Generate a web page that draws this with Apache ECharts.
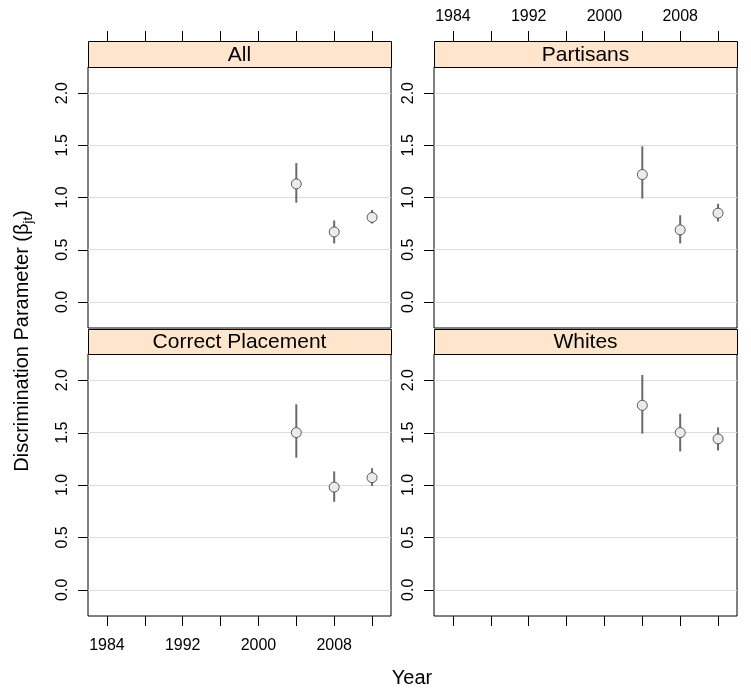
<!DOCTYPE html>
<html><head><meta charset="utf-8">
<script src="https://cdn.jsdelivr.net/npm/echarts@6/dist/echarts.min.js"></script>
<style>html,body{margin:0;padding:0;background:#fff}#c{width:751px;height:694px}</style>
</head><body><div id="c"></div>
<script>
// ---- data ----
const panelNames = ['All', 'Partisans', 'Correct Placement', 'Whites'];
const years = [2004, 2008, 2012];
const allEst = [1.13, 0.67, 0.81];
const allLo = [0.95, 0.56, 0.75];
const allHi = [1.33, 0.78, 0.88];
const partisansEst = [1.22, 0.69, 0.85];
const partisansLo = [0.99, 0.56, 0.77];
const partisansHi = [1.49, 0.83, 0.94];
const correctEst = [1.50, 0.98, 1.07];
const correctLo = [1.26, 0.84, 0.99];
const correctHi = [1.77, 1.13, 1.16];
const whitesEst = [1.76, 1.50, 1.44];
const whitesLo = [1.49, 1.32, 1.33];
const whitesHi = [2.05, 1.68, 1.55];
const xTickValues = [1984, 1988, 1992, 1996, 2000, 2004, 2008, 2012];
const xLabelValues = [1984, 1992, 2000, 2008];
const yTickValues = [0, 0.5, 1, 1.5, 2];

const panelEst = [allEst, partisansEst, correctEst, whitesEst];
const panelLo = [allLo, partisansLo, correctLo, whitesLo];
const panelHi = [allHi, partisansHi, correctHi, whitesHi];

// ---- layout ----
const FONT = "'Liberation Sans', Arial, Helvetica, sans-serif";
const W = 303;
const X_MIN = 1982, X_MAX = 2014;
const TICK_LEN = 10;
const layout = [
  { left: 88, top: 67, height: 261, pos: 'top', labels: false, stripH: 26 },
  { left: 434, top: 67, height: 261, pos: 'top', labels: true, stripH: 26 },
  { left: 88, top: 354, height: 262, pos: 'bottom', labels: true, stripH: 25 },
  { left: 434, top: 354, height: 262, pos: 'bottom', labels: false, stripH: 25 }
];

const grids = [], xAxes = [], yAxes = [], series = [], graphics = [];
layout.forEach((L, i) => {
  grids.push({ left: L.left, top: L.top, width: W, height: L.height, show: true,
    borderColor: '#000', borderWidth: 1, backgroundColor: 'transparent', containLabel: false });
  xAxes.push({
    type: 'value', gridIndex: i, min: X_MIN, max: X_MAX, position: L.pos,
    offset: L.pos === 'top' ? L.stripH : 0,
    axisLine: { show: false, onZero: false },
    axisTick: { show: true, length: TICK_LEN, inside: false, customValues: xTickValues,
      lineStyle: { color: '#000', width: 1 } },
    axisLabel: { show: L.labels, customValues: xLabelValues, color: '#000', fontSize: 16,
      fontFamily: FONT, margin: L.pos === 'top' ? 16 : 22, formatter: v => String(v) },
    splitLine: { show: false }
  });
  yAxes.push({
    type: 'value', gridIndex: i, min: -0.25, max: 2.25, position: 'left',
    axisLine: { show: false, onZero: false },
    axisTick: { show: false, customValues: yTickValues },
    axisLabel: { show: true, customValues: yTickValues, rotate: 90, color: '#000', fontSize: 16,
      fontFamily: FONT, margin: 17, formatter: v => v.toFixed(1) },
    splitLine: { show: true, lineStyle: { color: '#dcdcdc', width: 1 } }
  });
  const barData = years.map((y, k) => [y, panelLo[i][k], panelHi[i][k]]);
  series.push({
    type: 'custom', xAxisIndex: i, yAxisIndex: i, z: 3,
    data: barData,
    renderItem: function (params, api) {
      const p1 = api.coord([api.value(0), api.value(1)]);
      const p2 = api.coord([api.value(0), api.value(2)]);
      return { type: 'line', shape: { x1: p1[0], y1: p1[1], x2: p2[0], y2: p2[1] },
        style: { stroke: '#6a6a6a', lineWidth: 2 } };
    },
    silent: true
  });
  series.push({
    type: 'scatter', xAxisIndex: i, yAxisIndex: i, z: 4,
    data: years.map((y, k) => [y, panelEst[i][k]]),
    symbol: 'circle', symbolSize: 10,
    itemStyle: { color: '#ebebeb', borderColor: '#5a5a5a', borderWidth: 1, opacity: 1 },
    silent: true
  });
  graphics.push({
    type: 'rect', left: L.left, top: L.top - L.stripH, z: 10,
    shape: { width: W, height: L.stripH },
    style: { fill: '#FFE5CC', stroke: '#000', lineWidth: 1 }
  });
  graphics.push({
    type: 'text', x: L.left + W / 2, y: L.top - L.stripH / 2 + 1, z: 11,
    style: { text: panelNames[i], fill: '#000', font: '21px ' + FONT,
      align: 'center', verticalAlign: 'middle' }
  });
});

graphics.push({
  type: 'text', x: 412, y: 678, z: 11,
  style: { text: 'Year', fill: '#000', font: '20px ' + FONT, align: 'center', verticalAlign: 'middle' }
});
graphics.push({
  type: 'text', x: 22, y: 341, rotation: Math.PI / 2, z: 11,
  style: {
    text: '{a|Discrimination Parameter (β}{s|jt}{a|)}',
    align: 'center', verticalAlign: 'middle',
    rich: {
      a: { fontSize: 20, fontFamily: FONT, fill: '#000', lineHeight: 26, verticalAlign: 'middle' },
      s: { fontSize: 13, fontFamily: FONT, fill: '#000', lineHeight: 13, verticalAlign: 'bottom' }
    }
  }
});

const chart = echarts.init(document.getElementById('c'), null, { renderer: 'canvas' });
chart.setOption({
  animation: false,
  backgroundColor: '#fff',
  grid: grids, xAxis: xAxes, yAxis: yAxes, series: series, graphic: graphics
});

// y-axis tick marks placed through each panel's axis scale
const tickGraphics = [];
layout.forEach((L, i) => {
  yTickValues.forEach(v => {
    const p = chart.convertToPixel({ gridIndex: i }, [X_MIN, v]);
    const yy = Math.round(p[1]) + 0.5;
    tickGraphics.push({
      type: 'polyline', z: 12, silent: true,
      shape: { points: [[p[0] - TICK_LEN, yy], [p[0], yy]] },
      style: { stroke: '#000', lineWidth: 1, fill: null }
    });
  });
});
chart.setOption({ graphic: graphics.concat(tickGraphics) });
</script>
</body></html>
